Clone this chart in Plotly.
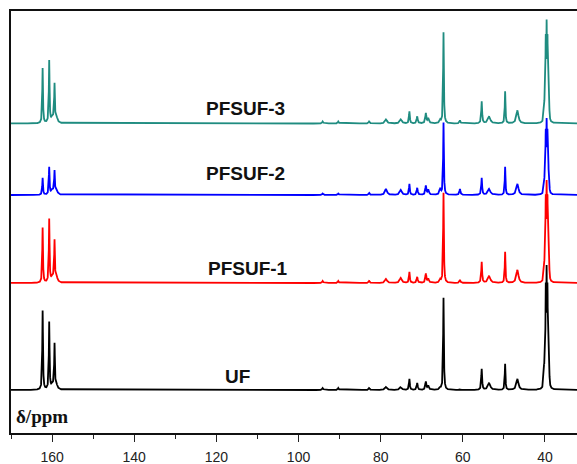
import numpy as np
import plotly.graph_objects as go

# --- 13C NMR peak table (chemical shift in ppm, half-width in ppm) ---
peak_ppm = [162.3, 160.7, 159.9, 159.4, 158.9, 94.1, 90.3, 82.8, 78.7, 75.1,
            73.0, 71.1, 69.0, 68.4, 65.5, 64.7, 60.7, 55.4, 53.6, 49.7, 46.7]
peak_hwhm = [0.10, 0.10, 0.35, 0.10, 0.30, 0.15, 0.15, 0.15, 0.30, 0.30,
             0.12, 0.15, 0.15, 0.20, 0.20, 0.10, 0.15, 0.12, 0.35, 0.10, 0.30]

# DMSO-d6 solvent septet
solvent_ppm = 39.6
solvent_j = 0.21
solvent_ratio = [1, 3, 6, 7, 6, 3, 1]
solvent_hwhm = 0.08

# sample names and intensities for each peak in the table
samples = ["PFSUF-3", "PFSUF-2", "PFSUF-1", "UF"]
int_pfsuf3 = [55, 62, 6, 37, 5, 2, 2, 2, 4, 4, 12, 7, 10, 5, 3, 91, 3, 22, 7, 32, 13]
int_pfsuf2 = [17, 27, 5, 22, 4, 1.5, 1.5, 2, 6, 5, 11, 7, 9, 5, 6, 72, 6, 17, 6, 28, 11]
int_pfsuf1 = [55, 63, 6, 40, 5, 2, 2, 2, 4, 5, 11, 6, 9, 4, 3, 90, 3, 21, 7, 31, 13]
int_uf = [79, 67, 5, 44, 4, 2, 2, 2, 3, 3, 11, 7, 8, 4, 2, 92, 1, 21, 7, 26, 11]
solvent_height = [104, 77, 103, 125]

# axis ticks
tick_vals = [160, 140, 120, 100, 80, 60, 40]
tick_text = ["160", "140", "120", "100", "80", "60", "40"]

# stacking offsets and colours
stack_offset = [309.5, 238, 150, 43]
colors = ["#1f8c80", "#0000ff", "#ff0000", "#000000"]
label_pos = [(112.8, 324.5), (112.8, 259.5), (112.4, 164.5), (114.9, 57)]

ppm = np.arange(32.0, 170.01, 0.02)


def lorentz(x, x0, w):
    return 1.0 / (1.0 + ((x - x0) / w) ** 2)


def spectrum(heights, solvent_h):
    y = np.zeros_like(ppm)
    for x0, w, h in zip(peak_ppm, peak_hwhm, heights):
        y += h * lorentz(ppm, x0, w)
    sept = np.zeros_like(ppm)
    for k, r in enumerate(solvent_ratio):
        sept += r * lorentz(ppm, solvent_ppm + (k - 3) * solvent_j, solvent_hwhm)
    y += solvent_h * sept / sept.max()
    return y


all_int = [int_pfsuf3, int_pfsuf2, int_pfsuf1, int_uf]

fig = go.Figure()
# draw order: PFSUF-2, PFSUF-1, UF, PFSUF-3
for i in [1, 2, 3, 0]:
    y = spectrum(all_int[i], solvent_height[i]) + stack_offset[i]
    fig.add_trace(go.Scatter(
        x=ppm, y=y, mode="lines", name=samples[i],
        line=dict(color=colors[i], width=1.8),
        hoverinfo="skip", showlegend=False,
    ))

for name, (lx, ly) in zip(samples, label_pos):
    fig.add_annotation(
        x=lx, y=ly, xref="x", yref="y", text=f"<b>{name}</b>", showarrow=False,
        font=dict(family="Liberation Sans, Arial, sans-serif", size=19, color="#111"),
        xanchor="center", yanchor="middle",
    )

fig.add_annotation(
    x=169.3, y=17, xref="x", yref="y", text="<b>δ/ppm</b>", showarrow=False,
    font=dict(family="Liberation Serif, Times New Roman, serif", size=19, color="#111"),
    xanchor="left", yanchor="middle",
)

fig.update_xaxes(
    range=[170, 32.2], showgrid=False, zeroline=False,
    showline=True, linecolor="#111", linewidth=1.5, mirror=True,
    ticks="outside", ticklen=7, tickwidth=1.3, tickcolor="#222",
    tickvals=tick_vals, ticktext=tick_text, ticklabelstandoff=3,
    tickfont=dict(family="Liberation Sans, Arial, sans-serif", size=14, color="#222"),
    minor=dict(dtick=10, tick0=0, ticks="outside", ticklen=4, tickwidth=1.2, tickcolor="#222"),
)
fig.update_yaxes(
    range=[0, 422], showgrid=False, zeroline=False, showticklabels=False,
    showline=True, linecolor="#111", linewidth=1.5, mirror=False, ticks="",
)

fig.update_layout(
    width=577, height=464,
    margin=dict(l=11, r=0, t=11, b=31),
    paper_bgcolor="white", plot_bgcolor="white",
)

fig.write_html("out.html")
